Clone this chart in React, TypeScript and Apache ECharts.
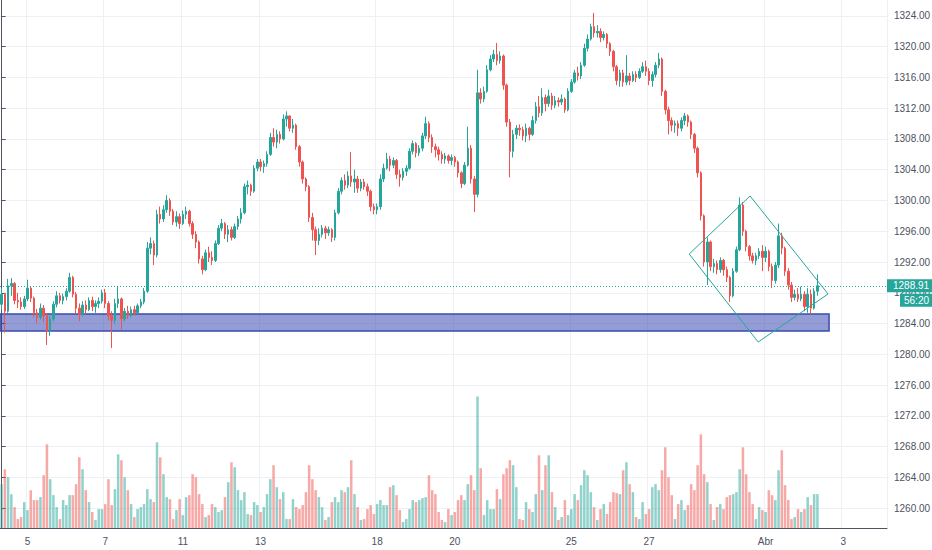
import React, { useEffect, useRef } from 'react';
import * as echarts from 'echarts';

// ---- categories (2-hour bars, sessions labelled by TradingView at local midnight) ----
const sessionDays = ['4', '5', '6', '7', '8', '11', '12', '13', '14', '15', '18', '19', '20', '21', '22', '25', '26', '27', '28', '29', 'Abr', '2', '3', '4'];
const labeledDays = ['5', '7', '11', '13', '18', '20', '25', '27', 'Abr', '3'];
const firstSessionBars = 8;
const barsPerSession = 12;
const totalSlots = 274;

// ---- price ticks ----
const priceTicks = [1260, 1264, 1268, 1272, 1276, 1280, 1284, 1288, 1292, 1296, 1300, 1304, 1308, 1312, 1316, 1320, 1324];
const priceMin = 1257.4;
const priceMax = 1326.08;

// ---- OHLC (open = previous close) ----
const firstOpen = 1286.5;
const closes = [
  1287.8, 1285.6, 1288.9, 1289.2, 1287.0, 1286.8, 1286.2, 1287.2,
  1288.6, 1287.3, 1285.4, 1284.8, 1286.0, 1285.0, 1283.0, 1284.6, 1286.5, 1287.6, 1287.0, 1287.5,
  1288.2, 1290.0, 1287.8, 1286.0, 1285.2, 1286.4, 1285.8, 1287.0, 1286.2, 1286.6, 1286.9, 1288.0,
  1286.6, 1285.0, 1284.4, 1286.6, 1287.2, 1284.6, 1285.6, 1285.0, 1285.8, 1285.4, 1286.3, 1286.8,
  1288.2, 1293.8, 1294.4, 1292.9, 1298.2, 1297.6, 1298.8, 1300.0, 1298.6, 1297.2, 1297.9, 1297.0,
  1298.2, 1298.6, 1297.0, 1295.6, 1294.6, 1292.4, 1291.0, 1293.2, 1292.6, 1292.2, 1294.4, 1296.4,
  1297.0, 1295.6, 1296.2, 1295.2, 1296.6, 1297.6, 1298.4, 1301.8, 1302.0, 1301.2, 1304.2, 1305.0,
  1304.4, 1304.8, 1306.0, 1308.2, 1307.6, 1308.6, 1308.0, 1310.6, 1311.0, 1309.4, 1309.8, 1307.0,
  1305.0, 1302.8, 1301.8, 1297.8, 1296.2, 1294.8, 1295.6, 1296.4, 1295.8, 1296.2, 1295.2, 1298.4,
  1301.2, 1302.6, 1302.0, 1303.2, 1302.4, 1302.8, 1301.6, 1302.4, 1301.8, 1301.2, 1299.2, 1298.8,
  1299.2, 1302.8, 1304.2, 1305.4, 1304.6, 1305.2, 1303.4, 1303.0, 1303.8, 1304.2, 1306.4, 1307.4,
  1306.2, 1306.8, 1308.4, 1310.0, 1308.2, 1307.0, 1306.6, 1306.0, 1305.4, 1305.8, 1305.2, 1305.6,
  1305.0, 1303.6, 1302.2, 1304.6, 1306.8, 1302.8, 1300.8, 1314.0, 1313.2, 1314.2, 1317.0, 1318.4,
  1319.0, 1318.2, 1318.8, 1315.0, 1310.2, 1306.4, 1308.6, 1309.4, 1309.2, 1308.4, 1309.4, 1308.6,
  1310.4, 1312.2, 1311.4, 1313.4, 1312.6, 1313.6, 1312.4, 1313.0, 1312.8, 1313.2, 1311.8, 1314.2,
  1315.4, 1316.6, 1316.2, 1317.6, 1319.8, 1321.0, 1322.6, 1321.8, 1322.0, 1321.2, 1321.6, 1320.4,
  1319.4, 1317.4, 1315.6, 1316.6, 1315.4, 1316.2, 1315.6, 1316.4, 1316.0, 1316.8, 1317.4, 1316.8,
  1315.6, 1316.4, 1317.6, 1318.4, 1314.2, 1311.8, 1310.4, 1309.8, 1310.0, 1309.4, 1310.4, 1311.0,
  1310.2, 1308.6, 1306.8, 1303.6, 1298.0, 1292.0, 1294.6, 1291.4, 1291.8, 1291.0, 1292.2, 1291.0,
  1290.0, 1287.6, 1290.8, 1293.6, 1299.4, 1296.0, 1294.0, 1292.8, 1292.2, 1292.8, 1293.4, 1292.6,
  1293.4, 1291.4, 1289.6, 1291.6, 1295.4, 1293.8, 1290.8, 1289.0, 1287.4, 1287.8, 1287.2, 1287.8,
  1286.2, 1287.8, 1286.0, 1288.2, 1288.91,
];
const highs = [
  1288.6, 1288.0, 1289.8, 1289.9, 1289.4, 1288.0, 1287.4, 1287.6,
  1289.7, 1288.8, 1287.5, 1285.9, 1286.6, 1286.4, 1285.3, 1285.0, 1286.9, 1288.2, 1288.0, 1287.9,
  1288.6, 1290.6, 1290.2, 1288.1, 1286.6, 1286.9, 1287.0, 1287.4, 1287.5, 1287.0, 1287.4, 1288.4,
  1288.5, 1286.9, 1285.6, 1287.2, 1288.9, 1287.4, 1286.0, 1286.3, 1286.2, 1286.3, 1286.6, 1287.2,
  1288.6, 1294.6, 1295.2, 1294.8, 1298.8, 1299.2, 1299.4, 1300.7, 1300.3, 1298.9, 1298.6, 1298.3,
  1298.7, 1299.2, 1298.8, 1297.3, 1296.0, 1294.8, 1292.8, 1293.6, 1294.0, 1293.4, 1294.8, 1296.8,
  1297.6, 1297.2, 1296.8, 1296.6, 1297.0, 1298.0, 1299.0, 1302.2, 1302.6, 1302.2, 1304.6, 1305.4,
  1305.4, 1305.2, 1306.4, 1308.8, 1309.4, 1309.2, 1309.0, 1311.2, 1311.6, 1311.0, 1310.6, 1310.0,
  1307.2, 1305.2, 1303.0, 1302.0, 1298.4, 1296.6, 1296.4, 1296.8, 1296.7, 1296.6, 1296.4, 1298.8,
  1301.6, 1303.0, 1303.4, 1303.8, 1306.3, 1304.0, 1303.2, 1302.8, 1302.8, 1302.2, 1301.4, 1299.6,
  1299.6, 1303.4, 1304.8, 1306.2, 1305.8, 1305.6, 1305.4, 1304.0, 1304.2, 1304.6, 1306.8, 1307.8,
  1307.6, 1307.2, 1308.8, 1310.9, 1310.3, 1308.6, 1307.4, 1307.0, 1306.4, 1306.2, 1306.0, 1306.0,
  1305.8, 1305.2, 1303.8, 1305.0, 1309.6, 1307.2, 1303.2, 1317.0, 1314.6, 1314.8, 1317.6, 1318.9,
  1319.6, 1320.5, 1319.4, 1319.0, 1315.2, 1310.6, 1309.2, 1309.8, 1309.9, 1309.6, 1310.0, 1309.6,
  1311.0, 1312.8, 1313.6, 1314.6, 1313.8, 1314.4, 1314.0, 1313.6, 1313.4, 1313.8, 1313.4, 1314.6,
  1315.8, 1317.0, 1317.4, 1318.0, 1320.4, 1321.6, 1323.0, 1324.4, 1322.8, 1322.4, 1322.0, 1321.8,
  1320.6, 1319.6, 1317.6, 1317.0, 1317.0, 1318.9, 1316.6, 1316.8, 1316.8, 1317.2, 1318.0, 1318.2,
  1317.2, 1316.8, 1318.0, 1319.2, 1318.6, 1314.4, 1312.2, 1310.8, 1310.4, 1310.4, 1310.8, 1311.4,
  1311.2, 1310.4, 1308.8, 1307.0, 1303.8, 1298.2, 1295.2, 1294.8, 1292.4, 1292.2, 1292.6, 1292.4,
  1291.4, 1290.2, 1291.2, 1294.0, 1300.4, 1299.8, 1296.2, 1294.2, 1293.2, 1293.2, 1293.8, 1294.2,
  1294.0, 1293.6, 1291.8, 1292.0, 1297.0, 1295.8, 1294.0, 1291.2, 1289.4, 1288.4, 1288.6, 1288.8,
  1288.2, 1288.6, 1288.4, 1288.6, 1290.4,
];
const lows = [
  1285.8, 1282.8, 1285.4, 1287.6, 1286.5, 1286.0, 1285.8, 1285.9,
  1286.9, 1286.8, 1284.8, 1284.0, 1284.5, 1284.2, 1281.2, 1282.4, 1284.3, 1286.1, 1286.6, 1286.5,
  1287.0, 1288.0, 1287.4, 1285.3, 1284.3, 1284.9, 1285.3, 1285.6, 1285.6, 1285.4, 1286.0, 1286.6,
  1286.0, 1284.4, 1280.8, 1284.0, 1286.0, 1283.2, 1284.3, 1284.6, 1284.8, 1285.0, 1285.2, 1286.0,
  1286.5, 1288.0, 1293.0, 1291.6, 1292.6, 1297.0, 1297.2, 1298.4, 1298.0, 1296.8, 1296.6, 1296.3,
  1296.8, 1297.6, 1296.6, 1295.0, 1293.8, 1291.8, 1290.4, 1290.8, 1292.0, 1291.6, 1292.0, 1294.2,
  1296.0, 1295.0, 1294.6, 1294.8, 1295.0, 1296.2, 1297.0, 1298.2, 1300.8, 1300.6, 1301.0, 1303.8,
  1303.8, 1303.6, 1304.4, 1305.8, 1307.0, 1306.8, 1307.4, 1307.8, 1309.6, 1309.0, 1308.8, 1306.6,
  1304.4, 1302.2, 1301.2, 1297.2, 1294.8, 1292.9, 1294.2, 1295.2, 1295.0, 1295.4, 1294.6, 1294.8,
  1298.2, 1300.8, 1301.4, 1301.6, 1301.8, 1301.0, 1301.0, 1301.2, 1301.4, 1300.6, 1298.6, 1298.2,
  1298.2, 1298.8, 1302.4, 1304.0, 1303.8, 1304.2, 1302.8, 1301.8, 1302.6, 1303.2, 1304.0, 1306.0,
  1305.6, 1305.8, 1306.4, 1308.0, 1307.6, 1306.2, 1305.6, 1305.2, 1304.8, 1304.8, 1304.8, 1304.6,
  1304.4, 1303.0, 1301.6, 1302.0, 1304.4, 1302.2, 1298.5, 1300.4, 1312.6, 1312.8, 1314.0, 1316.8,
  1318.0, 1317.6, 1317.8, 1314.4, 1309.6, 1303.0, 1305.6, 1308.0, 1308.4, 1307.8, 1307.6, 1307.8,
  1308.4, 1310.0, 1310.8, 1311.0, 1311.6, 1312.2, 1311.8, 1312.0, 1312.2, 1312.4, 1311.4, 1311.6,
  1314.0, 1315.2, 1315.6, 1315.8, 1317.4, 1319.4, 1320.8, 1321.2, 1321.2, 1320.6, 1320.8, 1319.8,
  1318.8, 1316.8, 1315.0, 1314.8, 1314.8, 1315.0, 1315.0, 1315.4, 1315.4, 1315.8, 1316.6, 1316.2,
  1315.0, 1314.8, 1316.0, 1317.2, 1313.6, 1311.2, 1308.6, 1309.0, 1308.8, 1308.4, 1309.0, 1309.8,
  1309.6, 1308.0, 1306.2, 1303.0, 1297.4, 1291.4, 1289.0, 1290.8, 1290.6, 1290.4, 1290.6, 1290.2,
  1289.4, 1286.8, 1287.4, 1290.6, 1293.4, 1295.4, 1293.4, 1292.2, 1291.8, 1291.6, 1292.4, 1290.8,
  1292.0, 1290.8, 1288.6, 1289.2, 1291.2, 1293.0, 1290.2, 1288.4, 1286.8, 1287.0, 1286.8, 1286.9,
  1285.6, 1285.4, 1285.2, 1285.8, 1287.6,
];
const volumes = [
  44, 59, 51, 34, 21, 9, 11, 26,
  18, 38, 28, 28, 31, 53, 84, 49, 33, 21, 9, 28,
  23, 33, 33, 44, 71, 59, 38, 26, 16, 8, 19, 19,
  24, 49, 23, 39, 74, 68, 51, 38, 24, 11, 19, 21,
  24, 39, 29, 26, 86, 71, 54, 31, 29, 9, 18, 29,
  13, 31, 33, 54, 51, 34, 24, 11, 13, 24, 21, 16,
  18, 31, 46, 66, 61, 38, 28, 36, 14, 13, 26, 23,
  16, 21, 34, 49, 63, 41, 29, 36, 9, 9, 29, 21,
  19, 23, 36, 63, 49, 38, 31, 21, 8, 11, 26, 31,
  26, 38, 36, 41, 68, 34, 21, 8, 9, 19, 23, 14,
  24, 28, 23, 23, 41, 43, 33, 18, 6, 9, 19, 28,
  26, 28, 30, 31, 53, 38, 34, 16, 8, 6, 19, 13,
  16, 28, 33, 28, 44, 53, 38, 132, 60, 13, 28, 19,
  19, 39, 29, 54, 60, 68, 63, 41, 9, 8, 26, 19,
  16, 34, 73, 38, 63, 73, 36, 21, 8, 11, 28, 13,
  19, 34, 28, 43, 58, 53, 36, 21, 8, 19, 24, 14,
  26, 36, 35, 34, 58, 66, 44, 36, 11, 9, 26, 14,
  19, 41, 44, 38, 58, 81, 51, 33, 9, 24, 28, 18,
  23, 44, 38, 63, 94, 54, 46, 24, 8, 21, 24, 19,
  31, 33, 34, 36, 59, 81, 54, 36, 24, 9, 21, 18,
  16, 38, 33, 28, 58, 78, 43, 28, 9, 11, 19, 16,
  19, 31, 23, 34, 34,
];
const volumeAxisMax = 530;

// ---- price line & drawings (bar index / price coordinates) ----
const lastPrice = 1288.91;
const countdownText = '56:20';
const supportZoneBars = [-0.5, 255.6];
const supportZonePrices = [1283.02, 1285.24];
const diamondPoints: [number, number][] = [
  [212.4, 1293.04],
  [231.2, 1300.59],
  [255.3, 1287.84],
  [233.7, 1281.59],
  [212.4, 1293.04],
];

const UP = '#26a69a';
const DOWN = '#ef5350';
const FONT = '"Liberation Sans", Arial, sans-serif';

function buildCategories(): string[] {
  const cats: string[] = [];
  sessionDays.forEach((d, s) => {
    const n = s === 0 ? firstSessionBars : barsPerSession;
    for (let k = 0; k < n && cats.length < totalSlots; k++) cats.push(`${s}|${d}|${k}`);
  });
  return cats;
}

function isLabeled(v: string): boolean {
  const p = String(v).split('|');
  return p[2] === '0' && labeledDays.indexOf(p[1]) >= 0;
}

export default function App() {
  const ref = useRef<HTMLDivElement>(null);

  useEffect(() => {
    document.body.style.margin = '0';
    if (!ref.current) return;
    const chart = echarts.init(ref.current, null, { renderer: 'svg' });
    const categories = buildCategories();

    const ohlc = closes.map((c, i) => {
      const o = i === 0 ? firstOpen : closes[i - 1];
      const h = Math.max(highs[i], o, c);
      const l = Math.min(lows[i], o, c);
      return [o, c, l, h];
    });

    const volData = volumes.map((v, i) => ({
      value: v,
      itemStyle: { color: ohlc[i][1] >= ohlc[i][0] ? 'rgba(38,166,154,0.5)' : 'rgba(239,83,80,0.5)' },
    }));

    const option: any = {
      animation: false,
      backgroundColor: '#ffffff',
      grid: { left: 0, right: 45, top: 0, bottom: 22, containLabel: false, outerBoundsMode: 'none' },
      xAxis: [
        {
          type: 'category',
          data: categories,
          boundaryGap: true,
          axisLine: { show: true, lineStyle: { color: '#50535e', width: 1 } },
          axisTick: { show: false },
          axisLabel: {
            interval: (_i: number, v: string) => isLabeled(v),
            formatter: (v: string) => String(v).split('|')[1],
            color: '#4c525e',
            fontSize: 10,
            fontFamily: FONT,
            margin: 8,
          },
          splitLine: {
            show: true,
            interval: (_i: number, v: string) => isLabeled(v),
            lineStyle: { color: '#edf1f5', width: 1 },
          },
        },
        { type: 'value', min: -0.5, max: totalSlots - 0.5, show: false },
      ],
      yAxis: [
        {
          type: 'value',
          position: 'right',
          min: priceMin,
          max: priceMax,
          axisLine: { show: true, lineStyle: { color: '#50535e', width: 1 } },
          axisTick: { show: true, length: 4, customValues: priceTicks, lineStyle: { color: '#50535e' } },
          axisLabel: {
            customValues: priceTicks,
            formatter: (v: number) => v.toFixed(2),
            color: '#4c525e',
            fontSize: 10,
            fontFamily: FONT,
            margin: 7,
          },
          splitLine: { show: true, lineStyle: { color: '#edf1f5', width: 1 } },
        },
        { type: 'value', min: 0, max: volumeAxisMax, show: false },
      ],
      series: [
        {
          type: 'bar',
          name: 'Volume',
          xAxisIndex: 0,
          yAxisIndex: 1,
          data: volData,
          barCategoryGap: '22%',
          silent: true,
          z: 1,
        },
        {
          type: 'candlestick',
          name: 'XAUUSD',
          xAxisIndex: 0,
          yAxisIndex: 0,
          data: ohlc,
          barWidth: '62%',
          itemStyle: { color: UP, color0: DOWN, borderColor: UP, borderColor0: DOWN, borderWidth: 1 },
          z: 2,
          markLine: {
            silent: true,
            symbol: ['none', 'none'],
            lineStyle: { color: UP, type: [1, 2], width: 1 },
            label: {
              show: true,
              position: 'end',
              distance: 0,
              formatter: lastPrice.toFixed(2),
              backgroundColor: UP,
              color: '#ffffff',
              padding: [2, 5, 1, 6],
              fontSize: 10,
              fontFamily: FONT,
            },
            data: [{ yAxis: lastPrice }],
          },
        },
        {
          type: 'line',
          name: 'Drawing',
          xAxisIndex: 1,
          yAxisIndex: 0,
          data: diamondPoints,
          symbol: 'none',
          silent: true,
          lineStyle: { color: UP, width: 1 },
          z: 4,
          markArea: {
            silent: true,
            itemStyle: { color: 'rgba(41,58,172,0.5)', borderColor: '#3a4bb0', borderWidth: 1.5 },
            data: [[
              { xAxis: supportZoneBars[0], yAxis: supportZonePrices[1] },
              { xAxis: supportZoneBars[1], yAxis: supportZonePrices[0] },
            ]],
          },
        },
      ],
    };

    chart.setOption(option);
    const yLast = chart.convertToPixel({ yAxisIndex: 0 }, lastPrice) as number;
    chart.setOption({
      graphic: [
        {
          type: 'text',
          x: 900,
          y: yLast + 8,
          z: 100,
          style: {
            text: countdownText,
            fill: '#ffffff',
            backgroundColor: UP,
            padding: [2, 4, 1, 4],
            fontSize: 10,
            fontFamily: FONT,
          },
        },
      ],
    });

    return () => chart.dispose();
  }, []);

  return <div ref={ref} style={{ position: 'fixed', left: 0, top: 0, width: 932, height: 550 }} />;
}
